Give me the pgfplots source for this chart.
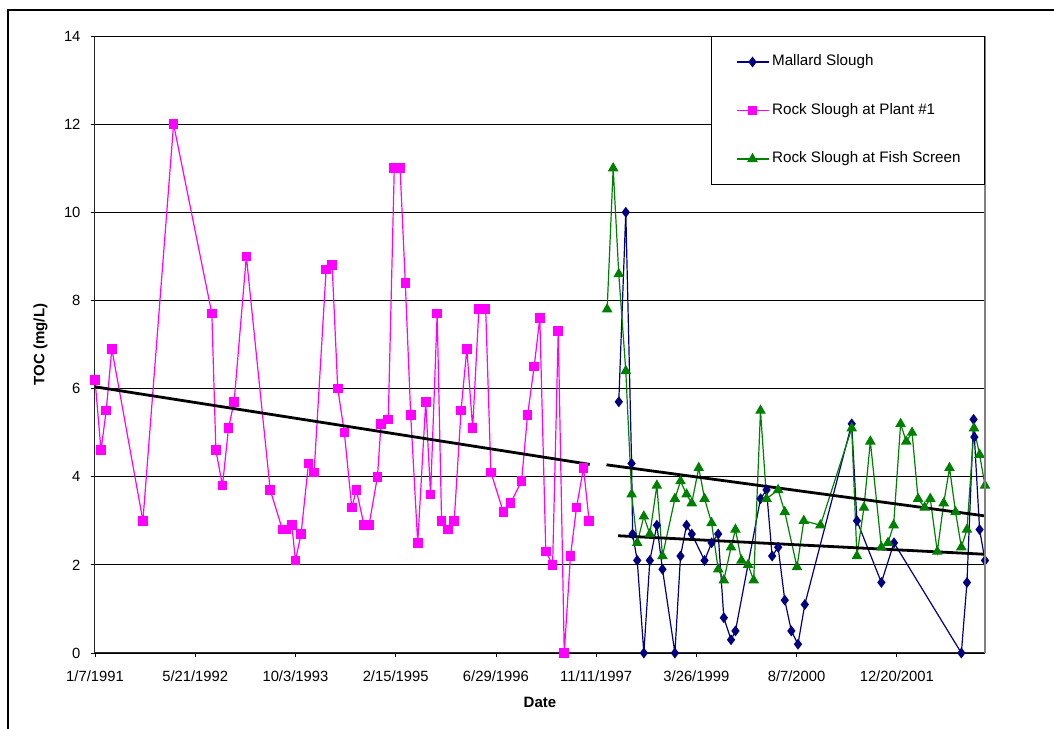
\documentclass[border=0pt]{standalone}
\usepackage{pgfplots}
\pgfplotsset{compat=1.18}
\usepackage{fontspec}
\setmainfont{Liberation Sans}
\definecolor{mallard}{RGB}{0,0,128}
\definecolor{plant}{RGB}{255,0,255}
\definecolor{fish}{RGB}{0,128,0}
\begin{document}
\begin{tikzpicture}
\useasboundingbox (-95bp,-76bp) rectangle (959bp,653bp);
\draw[line width=2bp] (-87bp,-76bp) -- (-87bp,643bp) -- (959bp,643bp);
\begin{axis}[
  at={(0bp,0bp)}, anchor=south west,
  scale only axis, width=890bp, height=617bp,
  xmin=0, xmax=4440, ymin=0, ymax=14,
  clip=false,
  /pgf/number format/assume math mode=true,
  xtick={0,500,...,4000},
  xticklabels={1/7/1991,5/21/1992,10/3/1993,2/15/1995,6/29/1996,11/11/1997,3/26/1999,8/7/2000,12/20/2001},
  ytick={0,2,...,14},
  axis lines=left,
  axis line style={-, black!85, line width=1bp},
  tick align=outside,
  major tick length=4bp,
  tick style={black, line width=0.8bp},
  ymajorgrids,
  grid style={black, line width=0.8bp},
  xticklabel style={font=\fontsize{14.8bp}{17bp}\selectfont, yshift=-10bp},
  yticklabel style={font=\fontsize{14.8bp}{17bp}\selectfont, xshift=-7bp},
  xlabel={Date},
  ylabel={TOC (mg/L)},
  xlabel style={font=\fontsize{15bp}{18bp}\selectfont\bfseries, at={(axis description cs:0.5,-0.0794)}, anchor=center},
  ylabel style={font=\fontsize{15bp}{18bp}\selectfont\bfseries, at={(axis description cs:-0.0612,0.5)}, anchor=center},
  legend style={at={(rel axis cs:1,1)}, anchor=north east, draw=black, line width=1bp, fill=white,
    inner xsep=24bp, inner ysep=18.5bp, row sep=34.5bp,
    font=\fontsize{15.2bp}{18bp}\selectfont,
    nodes={inner sep=0pt, text height=11bp, text depth=3bp},
    /tikz/every odd column/.append style={column sep=3bp}},
  legend cell align=left,
  legend image code/.code={\draw[mark repeat=2,mark phase=2] plot coordinates {(0bp,0bp) (16bp,0bp) (32bp,0bp)};},
  after end axis/.code={\draw[gray, line width=1.5bp] (rel axis cs:1,0) -- (rel axis cs:1,1);},
]
\addplot[color=mallard, line width=1.2bp, mark=diamond*, mark size=4.5bp, mark options={solid, fill=mallard}] coordinates {
(2613,5.7) (2648,10.0) (2677,4.3) (2682,2.7) (2705,2.1) (2738,0.0) (2768,2.1) (2803,2.9) (2831,1.9) (2893,0.0)
(2921,2.2) (2951,2.9) (2977,2.7) (3041,2.1) (3076,2.5) (3109,2.7) (3137,0.8) (3173,0.3) (3195,0.5) (3320,3.5)
(3350,3.7) (3378,2.2) (3408,2.4) (3441,1.2) (3474,0.5) (3507,0.2) (3541,1.1) (3775,5.2) (3801,3.0) (3923,1.6)
(3986,2.5) (4322,0.0) (4350,1.6) (4383,5.3) (4387,4.9) (4413,2.8) (4440,2.1)
};
\addlegendentry{Mallard Slough}
\addplot[color=plant, line width=1.2bp, mark=square*, mark size=4.2bp, mark options={solid, fill=plant}] coordinates {
(0,6.2) (30,4.6) (56,5.5) (84,6.9) (239,3.0) (392,12.0) (583,7.7) (603,4.6) (636,3.8) (666,5.1)
(694,5.7) (755,9.0) (874,3.7) (935,2.8) (952,2.8) (982,2.9) (1000,2.1) (1028,2.7) (1065,4.3) (1093,4.1)
(1153,8.7) (1183,8.8) (1211,6.0) (1244,5.0) (1281,3.3) (1304,3.7) (1342,2.9) (1367,2.9) (1409,4.0) (1427,5.2)
(1463,5.3) (1493,11.0) (1522,11.0) (1548,8.4) (1575,5.4) (1610,2.5) (1650,5.7) (1674,3.6) (1707,7.7) (1729,3.0)
(1762,2.8) (1792,3.0) (1826,5.5) (1855,6.9) (1884,5.1) (1915,7.8) (1949,7.8) (1975,4.1) (2037,3.2) (2073,3.4)
(2128,3.9) (2158,5.4) (2191,6.5) (2219,7.6) (2249,2.3) (2283,2.0) (2311,7.3) (2341,0.0) (2372,2.2) (2402,3.3)
(2437,4.2) (2465,3.0)
};
\addlegendentry{Rock Slough at Plant \#1}
\addplot[color=fish, line width=1.2bp, mark=triangle*, mark size=5bp, mark options={solid, fill=fish}] coordinates {
(2555,7.8) (2585,11.0) (2613,8.6) (2648,6.4) (2677,3.6) (2705,2.5) (2738,3.1) (2768,2.7) (2803,3.8) (2831,2.2)
(2893,3.5) (2921,3.9) (2951,3.6) (2977,3.4) (3012,4.2) (3041,3.5) (3076,2.95) (3109,1.9) (3137,1.65) (3173,2.4)
(3195,2.8) (3225,2.1) (3258,2.0) (3286,1.65) (3320,5.5) (3350,3.5) (3408,3.7) (3441,3.2) (3502,1.95) (3536,3.0)
(3619,2.9) (3775,5.1) (3801,2.2) (3836,3.3) (3868,4.8) (3923,2.4) (3956,2.5) (3984,2.9) (4019,5.2) (4047,4.8)
(4076,5.0) (4106,3.5) (4139,3.3) (4167,3.5) (4202,2.3) (4234,3.4) (4263,4.2) (4293,3.2) (4322,2.4) (4350,2.8)
(4385,5.1) (4413,4.5) (4440,3.8)
};
\addlegendentry{Rock Slough at Fish Screen}
\addplot[black, line width=2.8bp, forget plot] coordinates {(0,6.04) (2468,4.28)};
\addplot[black, line width=2.8bp, forget plot] coordinates {(2552,4.27) (4440,3.11)};
\addplot[black, line width=2.8bp, forget plot] coordinates {(2610,2.66) (4440,2.24)};
\end{axis}
\end{tikzpicture}
\end{document}
